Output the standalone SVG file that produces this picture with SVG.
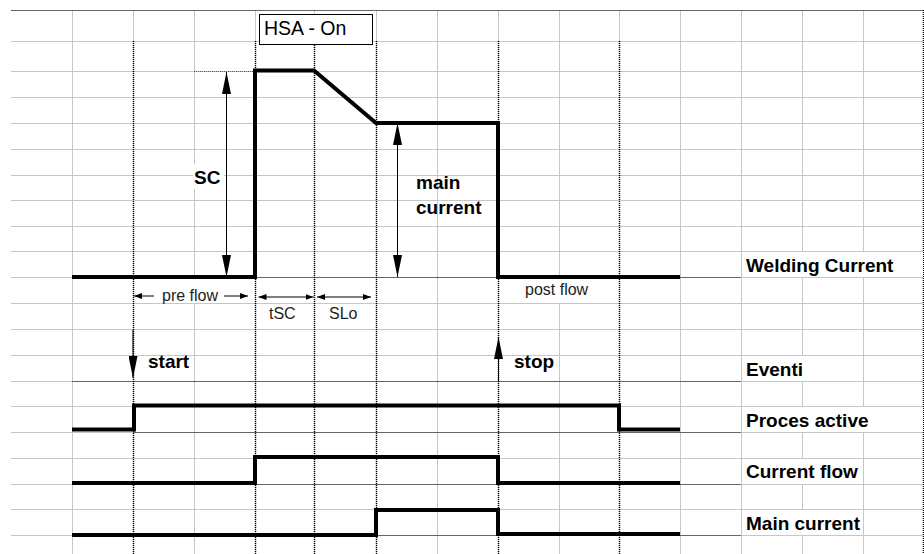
<svg xmlns="http://www.w3.org/2000/svg" width="924" height="554" viewBox="0 0 924 554">
<style>
.grid{stroke:#c6c6c6;stroke-width:1;fill:none}
.dark{stroke:#666;stroke-width:1;fill:none}
.dot{stroke:#000;stroke-width:1.5;stroke-dasharray:1 1;fill:none}
.sig{stroke:#000;stroke-width:4;fill:none;stroke-linejoin:miter;stroke-linecap:butt}
.dim{stroke:#000;stroke-width:1;fill:none}
.b{font-family:"Liberation Sans",Arial,sans-serif;font-weight:bold;font-size:19px;fill:#000}
.r{font-family:"Liberation Sans",Arial,sans-serif;font-size:16px;fill:#222}
</style>
<defs>
<marker id="ah" viewBox="0 0 8 6" refX="8" refY="3" markerWidth="8" markerHeight="6" markerUnits="userSpaceOnUse" orient="auto-start-reverse"><path d="M0,0 L8,3 L0,6 z" fill="#000"/></marker>
<marker id="dh" viewBox="0 0 22 9" refX="22" refY="4.5" markerWidth="22" markerHeight="9" markerUnits="userSpaceOnUse" orient="auto-start-reverse"><path d="M0,0 L22,4.5 L0,9 z" fill="#000"/></marker>
</defs>
<rect width="924" height="554" fill="#fff"/>
<g id="grid">
<path class="grid" d="M11,41.5H923M11,71.5H923M11,97.5H923M11,123.5H923M11,149.5H923M11,175.5H923M11,200.5H923M11,226.5H923M11,251.5H923M11,277.5H923M11,303.5H923M11,329.5H923M11,355.5H923M11,381.5H923M11,406.5H923M11,432.5H923M11,458.5H923M11,484.5H923M11,509.5H923M11,535.5H923"/>
<path class="grid" d="M72.5,10V554M133.5,10V554M194.5,10V554M255.5,10V554M314.5,10V554M376.5,10V554M437.5,10V554M498.5,10V554M559.5,10V554M619.5,10V554M680.5,10V554M741.5,10V554M802.5,10V554M863.5,10V554"/>
<path class="dark" d="M11,10.5H923M255,277.5H741M72,381.5H741M133,432.5H741M255,484.5H741M376,535.5H741"/>
<path class="dot" d="M133.5,41V554M255.5,41V554M314.5,41V554M376.5,41V554M498.5,41V554M619.5,41V554M923.5,10V554"/>
<path d="M194,71.5H253" stroke="#555" stroke-width="1" stroke-dasharray="1 1" fill="none"/>
<g fill="#fff">
<rect x="742" y="252" width="181" height="25"/>
<rect x="742" y="356" width="120" height="25"/>
<rect x="742" y="407" width="181" height="25"/>
<rect x="742" y="459" width="120" height="25"/>
<rect x="742" y="510" width="120" height="25"/>
<rect x="193" y="278" width="3" height="25"/>
<rect x="558" y="278" width="3" height="25"/>
<rect x="193" y="164" width="31" height="25"/>
</g>
</g>
<g id="signals">
<path id="welding-current" class="sig" d="M72,277H255V70.5H314L376,123H498V277H680"/>
<path id="proces-active" class="sig" d="M72,429.5H134V405.5H619V429.5H680"/>
<path id="current-flow" class="sig" d="M72,483H255V457H498V483H680"/>
<path id="main-current" class="sig" d="M72,535H376V510H498V534H680"/>
</g>
<g id="connectors">
<line class="dim" x1="226.5" y1="72" x2="226.5" y2="277" marker-start="url(#dh)" marker-end="url(#dh)"/>
<line class="dim" x1="397.5" y1="123" x2="397.5" y2="277" marker-start="url(#dh)" marker-end="url(#dh)"/>
<line class="dim" x1="133" y1="330" x2="133" y2="378" stroke-width="1.5" marker-end="url(#dh)"/>
<line class="dim" x1="498.5" y1="381" x2="498.5" y2="337" stroke-width="1.5" marker-end="url(#dh)"/>
<line class="dim" x1="154" y1="296" x2="134" y2="296" marker-end="url(#ah)"/>
<line class="dim" x1="224" y1="296" x2="248" y2="296" marker-end="url(#ah)"/>
<line class="dim" x1="258.5" y1="297" x2="313.5" y2="297" marker-start="url(#ah)" marker-end="url(#ah)"/>
<line class="dim" x1="317" y1="297" x2="371" y2="297" marker-start="url(#ah)" marker-end="url(#ah)"/>
</g>
<g id="hsa-on">
<rect x="259.5" y="14.5" width="113" height="30" fill="#fff" stroke="#000" stroke-width="1"/>
<text x="264" y="34.5" font-family="Liberation Sans, Arial, sans-serif" font-size="19.5" fill="#000">HSA - On</text>
</g>
<g id="annotations">
<text class="b" x="194" y="184" font-size="18">SC</text>
<text class="b" x="416" y="189">main</text>
<text class="b" x="416" y="213.5">current</text>
<text class="r" x="162" y="301">pre flow</text>
<text class="r" x="269" y="319">tSC</text>
<text class="r" x="329" y="319">SLo</text>
<text class="r" x="525" y="295">post flow</text>
<text class="b" x="148" y="368">start</text>
<text class="b" x="514" y="368">stop</text>
</g>
<g id="labels">
<text id="lbl-welding" class="b" x="746" y="272">Welding Current</text>
<text id="lbl-eventi" class="b" x="746" y="376">Eventi</text>
<text id="lbl-proces" class="b" x="746" y="427">Proces active</text>
<text id="lbl-current-flow" class="b" x="746" y="478">Current flow</text>
<text id="lbl-main-current" class="b" x="746" y="530">Main current</text>
</g>
</svg>
